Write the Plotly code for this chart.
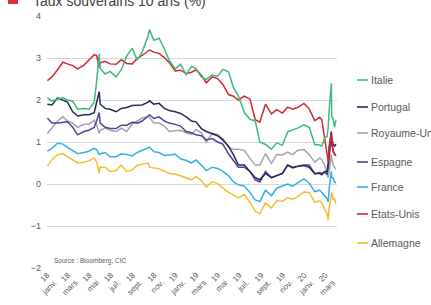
import plotly.graph_objects as go

dates = [
    "2018-01-02","2018-01-15","2018-01-31","2018-02-15","2018-02-28","2018-03-15","2018-03-29","2018-04-16",
    "2018-04-30","2018-05-15","2018-05-22","2018-05-29","2018-06-01","2018-06-15","2018-06-29","2018-07-16",
    "2018-07-31","2018-08-15","2018-08-31","2018-09-14","2018-09-28","2018-10-15","2018-10-19","2018-10-31",
    "2018-11-15","2018-11-30","2018-12-14","2018-12-31",
    "2019-01-15","2019-01-31","2019-02-15","2019-02-28","2019-03-15","2019-03-29","2019-04-15","2019-04-30",
    "2019-05-15","2019-05-31","2019-06-14","2019-06-28","2019-07-15","2019-07-31","2019-08-15","2019-08-28",
    "2019-09-13","2019-09-30","2019-10-15","2019-10-31","2019-11-15","2019-11-29","2019-12-13","2019-12-31",
    "2020-01-15","2020-01-31","2020-02-14","2020-02-20","2020-02-28","2020-03-06","2020-03-09","2020-03-12",
    "2020-03-17","2020-03-18","2020-03-19","2020-03-23","2020-03-27","2020-03-31",
]

italie = [2.05,1.98,2.02,2.06,2.00,1.97,1.78,1.80,1.78,1.95,2.45,3.10,2.75,2.62,2.68,2.55,2.72,3.05,3.23,2.95,3.14,3.53,3.68,3.42,3.47,3.22,2.94,2.74,
          2.85,2.60,2.80,2.75,2.55,2.49,2.60,2.56,2.73,2.67,2.30,2.10,1.70,1.54,1.50,1.00,0.94,0.83,0.98,0.92,1.24,1.28,1.33,1.41,
          1.35,0.94,0.93,0.90,1.10,1.13,1.36,1.80,2.37,2.40,1.60,1.55,1.35,1.52]
portugal = [1.90,1.88,2.05,2.00,1.95,1.72,1.62,1.65,1.65,1.70,1.95,2.20,1.90,1.80,1.78,1.72,1.80,1.82,1.87,1.88,1.88,1.95,1.98,1.90,1.92,1.80,1.75,1.72,
            1.68,1.60,1.50,1.48,1.32,1.25,1.20,1.15,1.05,0.90,0.70,0.45,0.45,0.30,0.15,0.10,0.25,0.15,0.20,0.25,0.45,0.38,0.42,0.44,
            0.40,0.25,0.25,0.22,0.30,0.30,0.50,0.90,1.20,1.25,1.10,0.95,0.90,0.95]
royaume_uni = [1.20,1.33,1.50,1.60,1.50,1.45,1.35,1.42,1.42,1.52,1.40,1.20,1.28,1.33,1.28,1.25,1.33,1.25,1.43,1.50,1.57,1.60,1.58,1.45,1.45,1.38,1.25,1.27,
               1.28,1.22,1.18,1.30,1.22,1.00,1.20,1.18,1.08,0.88,0.82,0.83,0.80,0.61,0.45,0.45,0.72,0.49,0.70,0.69,0.76,0.70,0.80,0.82,
               0.70,0.52,0.62,0.58,0.44,0.25,0.15,0.30,0.60,0.70,0.60,0.45,0.40,0.35]
espagne = [1.57,1.45,1.45,1.47,1.48,1.35,1.17,1.25,1.28,1.35,1.50,1.70,1.45,1.35,1.32,1.32,1.40,1.40,1.47,1.45,1.50,1.62,1.65,1.56,1.60,1.50,1.45,1.42,
           1.38,1.25,1.22,1.17,1.15,1.05,1.08,1.00,0.95,0.72,0.55,0.40,0.40,0.30,0.10,0.05,0.30,0.15,0.20,0.25,0.45,0.40,0.42,0.45,
           0.45,0.24,0.27,0.25,0.28,0.22,0.38,0.70,1.05,1.10,0.95,0.80,0.70,0.68]
france = [0.78,0.85,0.97,0.95,0.87,0.80,0.72,0.75,0.78,0.85,0.82,0.70,0.72,0.75,0.65,0.65,0.72,0.70,0.67,0.75,0.80,0.85,0.88,0.77,0.75,0.68,0.70,0.71,
          0.60,0.56,0.50,0.57,0.45,0.32,0.40,0.37,0.30,0.20,0.05,-0.02,-0.05,-0.20,-0.38,-0.42,-0.15,-0.28,-0.10,-0.05,0.00,-0.05,0.02,0.12,
          0.02,-0.18,-0.15,-0.20,-0.28,-0.35,-0.42,-0.10,0.25,0.30,0.15,0.15,0.05,0.02]
etats_unis = [2.46,2.55,2.72,2.90,2.86,2.82,2.74,2.83,2.95,3.08,3.06,2.77,2.89,2.92,2.86,2.85,2.96,2.87,2.86,2.99,3.06,3.16,3.19,3.14,3.11,3.01,2.89,2.69,
              2.71,2.63,2.66,2.72,2.59,2.41,2.55,2.51,2.37,2.13,2.09,2.00,2.09,2.02,1.53,1.47,1.90,1.67,1.77,1.69,1.83,1.78,1.82,1.92,
              1.79,1.51,1.59,1.52,1.13,0.76,0.54,0.85,1.08,1.18,1.12,0.76,0.72,0.67]
allemagne = [0.43,0.58,0.70,0.72,0.65,0.57,0.50,0.52,0.55,0.62,0.52,0.26,0.40,0.40,0.30,0.32,0.45,0.30,0.33,0.45,0.47,0.50,0.40,0.39,0.36,0.31,0.25,0.24,
             0.20,0.15,0.10,0.18,0.08,-0.07,0.05,0.01,-0.10,-0.20,-0.26,-0.33,-0.25,-0.44,-0.65,-0.71,-0.45,-0.57,-0.40,-0.41,-0.33,-0.36,-0.30,-0.19,
             -0.20,-0.43,-0.40,-0.45,-0.61,-0.71,-0.86,-0.55,-0.30,-0.25,-0.20,-0.38,-0.35,-0.47]

names = ["Italie", "Portugal", "Royaume-Uni", "Espagne", "France", "Etats-Unis", "Allemagne"]
series = [italie, portugal, royaume_uni, espagne, france, etats_unis, allemagne]
colors = ["#3dbb7c", "#1f2d55", "#a3a3ad", "#5b3d9e", "#2eb2e6", "#d7262b", "#f5bd2f"]

tick_vals = ["2018-01-01","2018-03-01","2018-05-01","2018-07-01","2018-09-01","2018-11-01",
             "2019-01-01","2019-03-01","2019-05-01","2019-07-01","2019-09-01","2019-11-01",
             "2020-01-01","2020-03-01"]
tick_text = ["18<br>janv.","18<br>mars","18<br>mai","18<br>juil.","18<br>sept.","18<br>nov.",
             "19<br>janv.","19<br>mars","19<br>mai","19<br>juil.","19<br>sept.","19<br>nov.",
             "20<br>janv.","20<br>mars"]

title_text = "Taux souverains 10 ans (%)"
source_text = "Source : Bloomberg, CIC"

W, H = 431, 305
L, R, T, B = 47, 94, 16, 37
pw, ph = W - L - R, H - T - B

def px(xp):
    return (xp - L) / pw

def py(yp):
    return (H - B - yp) / ph

xr = ["2018-01-01", "2020-04-03"]

fig = go.Figure()
order = [6, 4, 2, 3, 1, 5, 0]
for i in order:
    fig.add_trace(go.Scatter(x=dates, y=series[i], mode="lines", name=names[i],
                             line=dict(color=colors[i], width=1.5), showlegend=False))

shapes = []
annotations = []
leg_y = [80, 107, 133, 162, 187, 214, 243]
for i, nm in enumerate(names):
    shapes.append(dict(type="line", xref="paper", yref="paper",
                       x0=px(357), x1=px(368), y0=py(leg_y[i]), y1=py(leg_y[i]),
                       line=dict(color=colors[i], width=1.6)))
    annotations.append(dict(xref="paper", yref="paper", x=px(369), y=py(leg_y[i]),
                            text=nm, showarrow=False, xanchor="left", yanchor="middle",
                            font=dict(size=10.5, color="#595959", family="Liberation Sans")))

annotations.append(dict(xref="paper", yref="paper", x=px(31), y=py(1), text=title_text,
                        showarrow=False, xanchor="left", yanchor="middle",
                        font=dict(size=14, color="#404040", family="Liberation Sans")))
annotations.append(dict(xref="paper", yref="paper", x=px(52), y=py(261), text=source_text,
                        showarrow=False, xanchor="left", yanchor="middle",
                        font=dict(size=6.5, color="#595959", family="Liberation Sans")))
shapes.append(dict(type="rect", xref="paper", yref="paper", x0=px(8), x1=px(18), y0=py(4), y1=py(-5),
                   fillcolor="#e0303a", line=dict(width=0)))

fig.update_layout(
    width=W, height=H,
    margin=dict(l=L, r=R, t=T, b=B, autoexpand=False),
    paper_bgcolor="white", plot_bgcolor="white",
    font=dict(family="Liberation Sans", color="#595959"),
    shapes=shapes, annotations=annotations,
    xaxis=dict(range=xr, type="date", showgrid=False, showline=False, zeroline=False,
               tickvals=tick_vals, ticktext=tick_text, tickangle=-45, automargin=False,
               tickfont=dict(size=8, color="#595959"), ticks=""),
    xaxis2=dict(range=xr, type="date", overlaying="x", anchor="free", position=1/3,
                showgrid=False, showline=True, linecolor="black", linewidth=1.5,
                ticks="outside", ticklen=3, tickcolor="black", tickwidth=1,
                tickvals=tick_vals, showticklabels=False, zeroline=False),
    yaxis=dict(range=[-2, 4], dtick=1, showgrid=True, gridcolor="#d9d9d9", gridwidth=1,
               zeroline=False, showline=False, ticks="", automargin=False,
               tickfont=dict(size=9, color="#595959"), ticklabelstandoff=5),
)

fig.write_html("out.html", config={"displayModeBar": False},
               post_script="document.body.style.margin='0px';")
